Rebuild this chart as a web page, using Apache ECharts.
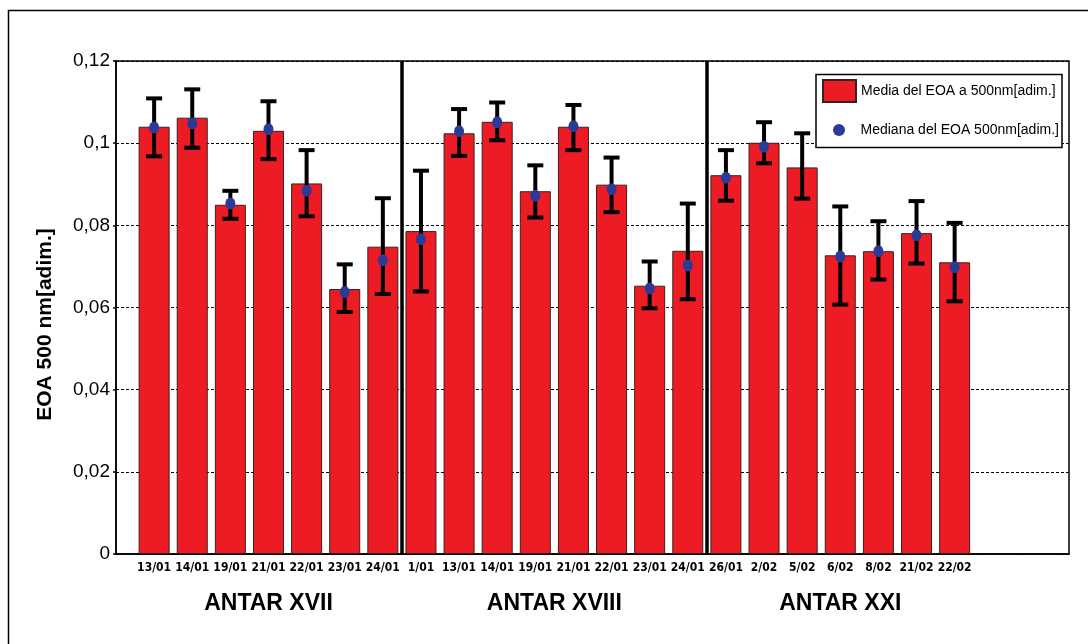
<!DOCTYPE html>
<html>
<head>
<meta charset="utf-8">
<script src="https://cdn.jsdelivr.net/npm/echarts@6/dist/echarts.min.js"></script>
<style>
html,body{margin:0;padding:0;background:#fff;}
#chart{width:1088px;height:644px;}
</style>
</head>
<body>
<div id="chart"></div>
<script>
const categories = ['13/01','14/01','19/01','21/01','22/01','23/01','24/01',
  '1/01','13/01','14/01','19/01','21/01','22/01','23/01','24/01',
  '26/01','2/02','5/02','6/02','8/02','21/02','22/02'];
const groups = ['ANTAR XVII','ANTAR XVIII','ANTAR XXI'];
const groupSizes = [7, 8, 7];
const meanValues = [0.1040,0.1062,0.0850,0.1030,0.0902,0.0645,0.0748,
  0.0786,0.1024,0.1052,0.0883,0.1040,0.0899,0.0653,0.0738,
  0.0922,0.1001,0.0941,0.0727,0.0737,0.0781,0.0710];
const medianValues = [0.1038,0.1048,0.0853,0.1034,0.0884,0.0638,0.0715,
  0.0766,0.1029,0.1051,0.0872,0.1041,0.0888,0.0646,0.0702,
  0.0916,0.0991,null,0.0724,0.0737,0.0776,0.0698];
const errHigh = [0.1109,0.1131,0.0884,0.1102,0.0983,0.0705,0.0866,
  0.0933,0.1083,0.1099,0.0946,0.1093,0.0965,0.0712,0.0853,
  0.0983,0.1051,0.1024,0.0846,0.0810,0.0859,0.0806];
const errLow = [0.0968,0.0989,0.0816,0.0961,0.0822,0.0589,0.0633,
  0.0639,0.0969,0.1007,0.0819,0.0983,0.0832,0.0598,0.0620,
  0.0860,0.0951,0.0865,0.0607,0.0668,0.0707,0.0615];
const yTickLabels = ['0','0,02','0,04','0,06','0,08','0,1','0,12'];
const meanName = 'Media del EOA a 500nm[adim.]';
const medianName = 'Mediana del EOA 500nm[adim.]';
const yName = 'EOA 500 nm[adim.]';

const chart = echarts.init(document.getElementById('chart'));

const separators = [];
let acc = 0;
const groupCenters = [];
groupSizes.forEach((s, i) => {
  groupCenters.push(acc + 1 + (s - 1) / 2);
  acc += s;
  if (i < groupSizes.length - 1) separators.push(acc + 0.5);
});

const narrow = "'DejaVu Sans Condensed','Liberation Sans Narrow',sans-serif";
const sans = "'Liberation Sans',Arial,Helvetica,sans-serif";

const option = {
  animation: false,
  backgroundColor: '#fff',
  grid: {left: 116, top: 61, right: 19, bottom: 90, show: true, borderColor: '#000', borderWidth: 1.5},
  xAxis: {
    type: 'value', min: 0, max: 25, interval: 1,
    axisLine: {show: true, lineStyle: {color: '#000', width: 1.5}},
    axisTick: {show: false},
    splitLine: {show: false},
    axisLabel: {
      margin: 8, color: '#000', fontFamily: narrow, fontWeight: 'bold', fontSize: 12,
      showMinLabel: true, showMaxLabel: true,
      formatter: v => (v >= 1 && v <= categories.length) ? categories[v - 1] : ''
    }
  },
  yAxis: {
    type: 'value', min: 0, max: 0.12, interval: 0.02,
    name: yName, nameLocation: 'middle', nameGap: 60,
    nameTextStyle: {fontFamily: sans, fontWeight: 'bold', fontSize: 21, color: '#000', padding: [0, 34, 0, 0]},
    axisLine: {show: true, lineStyle: {color: '#000', width: 1.5}},
    axisTick: {show: true, length: 3, lineStyle: {color: '#000', width: 1.5}},
    splitLine: {show: true, lineStyle: {color: '#000', width: 1, type: [3, 2]}},
    axisLabel: {
      margin: 6, color: '#000', fontFamily: sans, fontSize: 19,
      formatter: v => yTickLabels[Math.round(v / 0.02)]
    }
  },
  legend: [
    {
      data: [{name: meanName, icon: 'rect'}], left: 822, top: 79, orient: 'vertical',
      itemWidth: 33, itemHeight: 22, padding: 0, z: 20,
      textStyle: {fontFamily: sans, fontSize: 14, color: '#000'}
    },
    {
      data: [{name: medianName, icon: 'circle'}], left: 833, top: 123, orient: 'vertical',
      itemWidth: 33, itemHeight: 12, padding: 0, z: 20,
      textStyle: {fontFamily: sans, fontSize: 14, color: '#000'}
    }
  ],
  series: [
    {
      name: meanName, type: 'bar', barWidth: 31,
      data: meanValues.map((v, i) => [i + 1, v]),
      itemStyle: {color: '#ED1C24', borderColor: '#3a2020', borderWidth: 1},
      markLine: {
        silent: true, symbol: 'none', label: {show: false},
        lineStyle: {color: '#000', width: 3.5, type: 'solid'},
        data: separators.map(s => ({xAxis: s}))
      },
      z: 2
    },
    {
      name: 'err', type: 'custom', z: 3,
      data: errLow.map((lo, i) => [i + 1, lo, errHigh[i]]),
      encode: {x: 0, y: [1, 2]},
      renderItem: function (params, api) {
        const x = api.value(0);
        const pLo = api.coord([x, api.value(1)]);
        const pHi = api.coord([x, api.value(2)]);
        const hw = 8;
        const st = {stroke: '#000', lineWidth: 4};
        return {type: 'group', children: [
          {type: 'line', shape: {x1: pHi[0], y1: pHi[1], x2: pLo[0], y2: pLo[1]}, style: st},
          {type: 'line', shape: {x1: pHi[0] - hw, y1: pHi[1], x2: pHi[0] + hw, y2: pHi[1]}, style: st},
          {type: 'line', shape: {x1: pLo[0] - hw, y1: pLo[1], x2: pLo[0] + hw, y2: pLo[1]}, style: st}
        ]};
      }
    },
    {
      name: medianName, type: 'scatter', z: 4,
      symbol: 'circle', symbolSize: [10, 12],
      data: medianValues.map((v, i) => [i + 1, v]).filter(d => d[1] != null),
      itemStyle: {color: '#2B3A97', opacity: 1}
    }
  ]
};
chart.setOption(option);

const gfx = [
  {type: 'rect', shape: {x: 8.5, y: 10.5, width: 1200, height: 800}, style: {fill: 'none', stroke: '#000', lineWidth: 1.5}, z: 0, silent: true},
  {type: 'rect', shape: {x: 816, y: 74.5, width: 246, height: 73}, style: {fill: '#fff', stroke: '#000', lineWidth: 1.5}, z: 10, silent: true}
];
groups.forEach((g, i) => {
  const px = chart.convertToPixel({gridIndex: 0}, [groupCenters[i], 0]);
  gfx.push({type: 'text', x: px[0], y: 604, z: 10, silent: true,
    style: {text: g, fontFamily: sans, fontWeight: 'bold', fontSize: 23, fill: '#000', align: 'center', verticalAlign: 'middle'}});
});
chart.setOption({graphic: gfx});
</script>
</body>
</html>
